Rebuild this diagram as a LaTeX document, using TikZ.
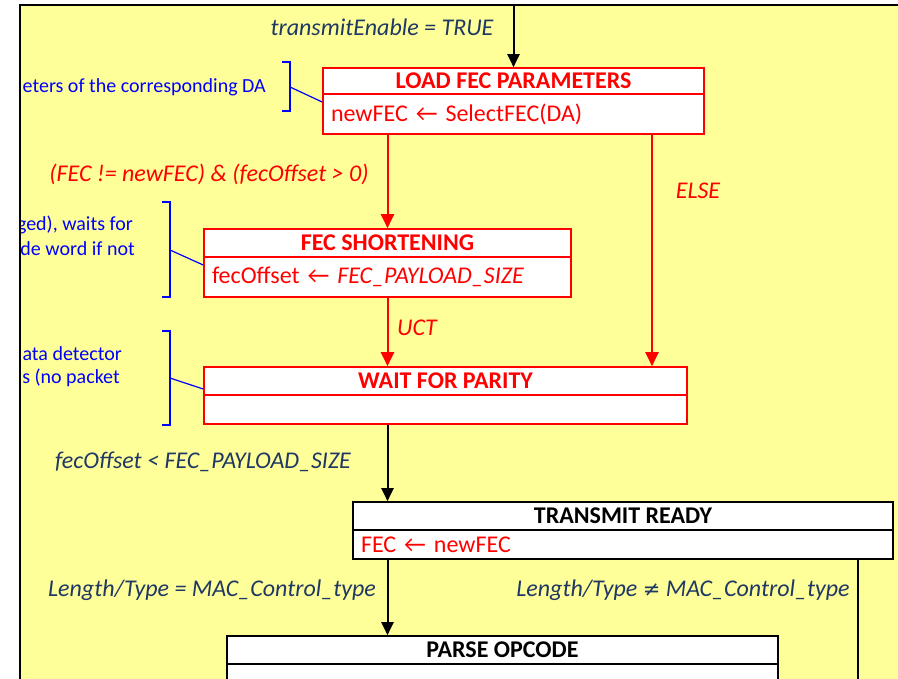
\documentclass[tikz,border=0pt]{standalone}
\usepackage{fontspec}
\setmainfont{Carlito}
\newfontfamily\symfont{DejaVu Sans}
\usetikzlibrary{arrows.meta,positioning}
\definecolor{bgyellow}{RGB}{255,255,153}
\definecolor{statered}{RGB}{255,0,0}
\definecolor{labelnavy}{RGB}{31,56,100}
\definecolor{noteblue}{RGB}{0,0,255}
\newcommand{\boxsize}{\fontsize{24}{28}\selectfont}
\newcommand{\notesize}{\fontsize{20}{24}\selectfont}
\begin{document}
\begin{tikzpicture}[x=1pt,y=-1pt,font=\boxsize]
\tikzstyle{redarc}=[-{Triangle[length=14pt,width=13pt]},draw=statered,line width=2pt]
\tikzstyle{blackarc}=[-{Triangle[length=13pt,width=12pt]},line width=2pt]
\tikzstyle{redtitle}=[draw=statered,fill=white,line width=1.6pt,text=statered,font=\boxsize\bfseries,inner sep=0pt]
\tikzstyle{redbody}=[draw=statered,fill=white,line width=1.6pt,text=statered,inner xsep=8pt,inner ysep=0pt,align=left]
\tikzstyle{blacktitle}=[draw=black,fill=white,line width=1.6pt,font=\boxsize\bfseries,inner sep=0pt]
\tikzstyle{blackbody}=[draw=black,fill=white,line width=1.6pt,text=statered,inner xsep=8pt,inner ysep=0pt,align=left]
\tikzstyle{navylabel}=[text=labelnavy,font=\boxsize\itshape,inner sep=0pt]
\tikzstyle{redlabel}=[text=statered,font=\boxsize\itshape,inner sep=0pt]
\tikzstyle{note}=[draw=noteblue,line width=1.2pt]
\tikzstyle{notetext}=[text=noteblue,font=\notesize,inner sep=0pt,anchor=east]
\useasboundingbox (0,0) rectangle (898,679);
%% background frame %%
\fill[bgyellow] (20,5) rectangle (920,700);
%% TikZ-figure elements %%
\node[redtitle,minimum width=381pt,minimum height=26pt] at (513.5,81) (loadT) {LOAD FEC PARAMETERS};
\node[redbody,text width=365pt,minimum height=40pt] at (513.5,114) (loadB) {newFEC ← SelectFEC(DA)};
\node[redtitle,minimum width=367pt,minimum height=28pt] at (387.5,243) (shortT) {FEC SHORTENING};
\node[redbody,text width=351pt,minimum height=40pt] at (387.5,277) (shortB) {fecOffset ← \textit{FEC\_PAYLOAD\_SIZE}};
\node[redtitle,minimum width=483pt,minimum height=28pt] at (445.5,381) (waitT) {WAIT FOR PARITY};
\node[redbody,text width=467pt,minimum height=29pt] at (445.5,409.5) (waitB) {};
\node[blacktitle,minimum width=540pt,minimum height=28pt] at (623,516) (trT) {TRANSMIT READY};
\node[blackbody,text width=524pt,minimum height=29pt] at (623,544.5) (trB) {FEC ← newFEC};
\node[blacktitle,minimum width=551pt,minimum height=28pt] at (502.5,650) (poT) {PARSE OPCODE};
\node[blackbody,text width=535pt,minimum height=40pt] at (502.5,684) (poB) {};
%% transition labels %%
\node[navylabel] at (382,27) (lEnable) {transmitEnable = TRUE};
\node[redlabel] at (209,174) (lShort) {(FEC != newFEC) \& (fecOffset > 0)};
\node[redlabel] at (698,191) (lElse) {ELSE};
\node[redlabel] at (417,328) (lUct) {UCT};
\node[navylabel] at (203,462) (lOffset) {fecOffset < FEC\_PAYLOAD\_SIZE};
\node[navylabel] at (212,590) (lCtrl) {Length/Type = MAC\_Control\_type};
\node[navylabel] at (683,590) (lData) {Length/Type {\symfont\fontsize{21}{24}\selectfont ≠} MAC\_Control\_type};
%% connectors %%
\coordinate (entry) at (513.5,5);
\coordinate (elseFoot) at (652,134);
\coordinate (spine) at (387.5,0);
\coordinate (rightLeg) at (858,0);
\coordinate (offPage) at (858,700);
\draw[blackarc] (entry) -- (loadT.north);
\draw[redarc] (loadB.south -| shortT.north) -- (shortT.north);
\draw[redarc] (elseFoot) -- (elseFoot |- waitT.north);
\draw[redarc] (shortB.south) -- (shortB.south |- waitT.north);
\draw[blackarc] (spine |- waitB.south) -- (spine |- trT.north);
\draw[blackarc] (spine |- trB.south) -- (spine |- poT.north);
\draw[line width=2pt] (rightLeg |- trB.south) -- (offPage);
%% side notes %%
\begin{scope}
\clip (20,5) rectangle (898,679);
\node[notetext] at (266,87) (n1a) {eters of the corresponding DA};
\node[notetext] at (133,225) (n2a) {ged), waits for};
\node[notetext] at (135,249) (n2b) {de word if not};
\node[notetext] at (122,354) (n3a) {ata detector};
\node[notetext] at (120,378) (n3b) {s (no packet};
\end{scope}
\coordinate (br1) at (290,87);
\coordinate (br2) at (170,250);
\coordinate (br3) at (170,378);
\draw[note] (282,62) -- (290,62) -- (290,111) -- (282,111);
\draw[note] (162,202) -- (170,202) -- (170,297) -- (162,297);
\draw[note] (162,331) -- (170,331) -- (170,425) -- (162,425);
\draw[note] (br1) -- ([yshift=12pt]loadB.west);
\draw[note] (br2) -- ([yshift=12pt]shortB.west);
\draw[note] (br3) -- ([yshift=-8pt]waitT.west);
%% frame edges %%
\draw[line width=2pt] (20,700) -- (20,5) -- (920,5);
\end{tikzpicture}
\end{document}
